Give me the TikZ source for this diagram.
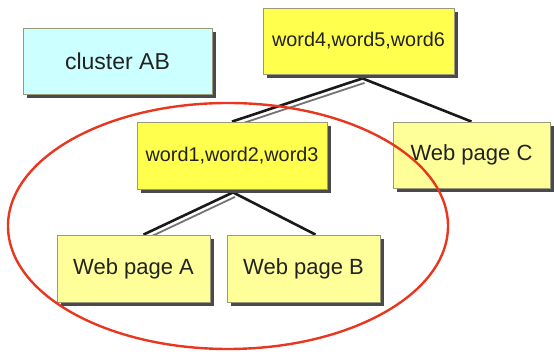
\documentclass[tikz,border=0pt]{standalone}
\usepackage{fontspec}
\setmainfont{Liberation Sans}
\usetikzlibrary{shadows,backgrounds}
\definecolor{cyanfill}{HTML}{CCFFFF}
\definecolor{wordfill}{HTML}{FFFF4D}
\definecolor{pagefill}{HTML}{FFFF99}
\definecolor{boxline}{HTML}{9A9A7A}
\definecolor{shadowc}{HTML}{4A4A4A}
\definecolor{redring}{HTML}{E8371E}
\definecolor{txt}{HTML}{222222}
\tikzset{
  box/.style={draw=boxline, line width=0.8pt, text=txt, inner sep=0pt,
    general shadow={fill=shadowc, shadow xshift=4pt, shadow yshift=-4pt}},
  clusterbox/.style={box, fill=cyanfill, font=\fontsize{23}{26}\selectfont},
  wordbox/.style={box, fill=wordfill, font=\fontsize{19.8}{23}\selectfont},
  pagebox/.style={box, fill=pagefill, font=\fontsize{22}{26}\selectfont},
  link/.style={draw=black!90, line width=2.6pt},
  link2/.style={draw=black!55, line width=1.8pt},
  ring/.style={draw=redring, line width=2.4pt}
}
\begin{document}
\begin{tikzpicture}[x=1pt,y=-1pt]
\useasboundingbox (0,0) rectangle (554,352);
\node[clusterbox, minimum width=189pt, minimum height=66pt] (cl) at (117.5,61) {cluster AB};
\node[wordbox, minimum width=191pt, minimum height=66pt] (w456) at (358.5,41) {word4,word5,word6};
\node[wordbox, minimum width=190pt, minimum height=67pt] (w123) at (232,155.5) {word1,word2,word3};
\node[pagebox, minimum width=157pt, minimum height=66pt] (pc) at (471.5,155) {Web page C};
\node[pagebox, minimum width=153pt, minimum height=67pt] (pa) at (133.5,268.5) {Web page A};
\node[pagebox, minimum width=153pt, minimum height=67pt] (pb) at (303.5,268.5) {Web page B};
\begin{scope}[on background layer]
\draw[link] ([xshift=4pt,yshift=-4pt]w456.south) -- (w123.north);
\draw[link2, transform canvas={shift={(2pt,-4.5pt)}}] ([xshift=4pt,yshift=-4pt]w456.south) -- (w123.north);
\draw[link] ([xshift=4pt,yshift=-4pt]w456.south) -- (pc.north);
\draw[link] ([xshift=1pt,yshift=-3pt]w123.south) -- ([xshift=10pt]pa.north);
\draw[link2, transform canvas={shift={(2pt,-4.5pt)}}] ([xshift=1pt,yshift=-3pt]w123.south) -- ([xshift=10pt]pa.north);
\draw[link] ([xshift=1pt,yshift=-3pt]w123.south) -- ([xshift=12pt]pb.north);
\end{scope}
\draw[ring] (228,226) ellipse [x radius=220, y radius=123];
\end{tikzpicture}
\end{document}
